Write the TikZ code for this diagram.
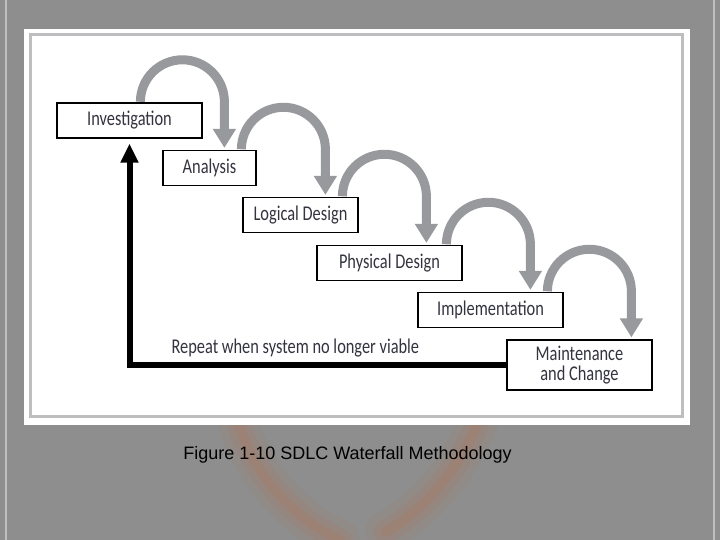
\documentclass[tikz,border=0pt]{standalone}
\usepackage{fontspec}
\usepackage{tikz}
\usetikzlibrary{arrows.meta}
\newfontfamily\boxfont[FakeStretch=0.78]{Carlito}
\newfontfamily\capfont{Liberation Sans}
\definecolor{bggray}{RGB}{142,142,142}
\definecolor{rimgray}{RGB}{190,190,192}
\definecolor{arcgray}{RGB}{152,153,157}
\definecolor{txtgray}{RGB}{52,52,64}
\definecolor{glow}{RGB}{205,95,40}

\begin{document}
\begin{tikzpicture}[x=1pt,y=1pt,
  flow/.style={draw=arcgray,line width=9pt,shorten >=2pt,-{Triangle[width=22pt,length=19pt]}},
  back/.style={draw=black,line width=6pt,shorten >=5pt,-{Triangle[width=17pt,length=19pt]}},
  lbl/.style={font=\boxfont\fontsize{21}{22}\selectfont,text=txtgray}]
\useasboundingbox (0,0) rectangle (720,540);
\fill[bggray] (0,0) rectangle (720,540);
%\fill[glow] (350,0) circle (40);
\foreach \w/\o in {40/0.06,24/0.08,10/0.12} {
  \draw[glow,line width=\w pt,opacity=\o,line cap=round] (238,118) .. controls (255,60) and (300,18) .. (340,0);
  \draw[glow,line width=\w pt,opacity=\o,line cap=round] (478,118) .. controls (458,70) and (425,30) .. (385,8);
}
\draw[rimgray,line width=2pt] (6,0) -- (6,540);
\draw[rimgray,line width=2pt] (714,0) -- (714,540);
\fill[white] (24,115) rectangle (690,511);
\draw[rimgray,line width=3pt] (30.5,123.5) rectangle (682,505.5);

\begin{scope}[every node/.style={draw=black,line width=1.2pt,fill=white,inner sep=0pt,minimum height=35pt,lbl}]
    \node[minimum width=145pt] (inv) at (129.5,419.5) {Investigation};
    \node[minimum width=93pt] (ana) at (209.5,372) {Analysis};
    \node[minimum width=115pt] (log) at (300.5,325) {Logical Design};
    \node[minimum width=145pt] (phy) at (389.5,277) {Physical Design};
    \node[minimum width=145pt] (imp) at (490.5,230) {Implementation};
    \node[minimum width=145pt,minimum height=50pt,align=center] (mnt) at (579.5,175) {Maintenance\\[-2pt]and Change};
\end{scope}

\draw[flow] ([xshift=84pt,yshift=0.6pt]inv.north west) arc[start angle=180,end angle=0,radius=42pt] coordinate (a1) -- (a1 |- ana.north);
\draw[flow] ([xshift=79pt,yshift=0.6pt]ana.north west) arc[start angle=180,end angle=0,radius=42pt] coordinate (a2) -- (a2 |- log.north);
\draw[flow] ([xshift=100pt,yshift=0.6pt]log.north west) arc[start angle=180,end angle=0,radius=42pt] coordinate (a3) -- (a3 |- phy.north);
\draw[flow] ([xshift=130pt,yshift=0.6pt]phy.north west) arc[start angle=180,end angle=0,radius=42pt] coordinate (a4) -- (a4 |- imp.north);
\draw[flow] ([xshift=130pt,yshift=0.6pt]imp.north west) arc[start angle=180,end angle=0,radius=42pt] coordinate (a5) -- (a5 |- mnt.north);

\draw[back] (mnt.west) -| (inv.south);
\node[lbl,anchor=west] (rep) at (168,192) {Repeat when system no longer viable};

\node[font=\capfont\fontsize{18}{20}\selectfont,anchor=base] (cap) at (347.5,80) {Figure 1-10 SDLC Waterfall Methodology};
\end{tikzpicture}
\end{document}
